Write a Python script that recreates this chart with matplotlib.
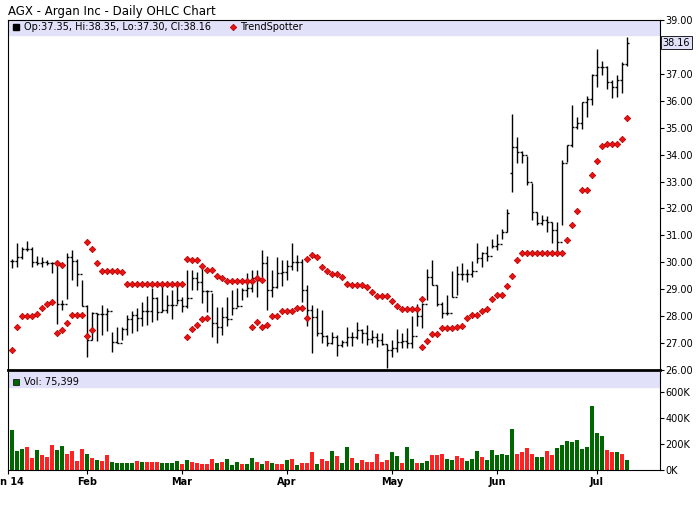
import numpy as np
import matplotlib
matplotlib.use('Agg')
import matplotlib.pyplot as plt

nan = np.nan

# daily high / low / close (124 sessions, Jan 10 - Jul 9 2014)
highs = [30.14, 30.70, 30.58, 30.79, 30.58, 30.23, 30.20, 30.08, 30.02, 29.96,
         28.60, 30.35, 30.45, 30.14, 29.34, 28.41, 28.16, 28.10, 28.41, 28.29,
         27.42, 27.60, 27.60, 28.04, 28.20, 28.29, 28.53, 28.74, 29.03, 28.72,
         29.21, 28.78, 28.97, 29.15, 28.72, 29.71, 29.71, 29.65, 29.90, 28.97,
         28.87, 28.35, 28.35, 28.72, 28.99, 29.03, 29.03, 29.59, 29.71, 29.71,
         30.45, 30.23, 29.71, 30.20, 30.08, 30.08, 30.70, 30.27, 30.14, 29.15,
         28.41, 28.29, 28.22, 27.29, 27.42, 27.29, 27.13, 27.60, 27.42, 27.79,
         27.54, 27.67, 27.48, 27.38, 27.38, 26.96, 27.13, 27.54, 27.38, 27.55,
         28.00, 28.47, 28.50, 29.77, 30.08, 29.16, 28.54, 28.78, 29.69, 29.86,
         29.99, 29.77, 30.06, 30.73, 30.39, 30.60, 30.85, 31.04, 31.22, 31.97,
         35.51, 34.67, 34.15, 33.95, 32.93, 31.88, 31.76, 31.72, 31.51, 31.51,
         33.80, 34.36, 35.84, 35.41, 35.97, 36.18, 36.99, 37.91, 37.49, 37.29,
         36.77, 36.96, 37.45, 38.35]
lows = [29.80, 29.83, 30.11, 30.43, 29.83, 29.90, 29.83, 29.90, 29.61, 27.70,
        28.22, 28.62, 29.34, 29.12, 28.37, 26.49, 27.11, 27.08, 27.29, 27.46,
        26.68, 26.99, 27.11, 27.29, 27.38, 27.46, 27.63, 27.67, 27.79, 27.85,
        28.16, 28.10, 27.91, 28.47, 28.16, 28.32, 28.97, 28.97, 28.50, 28.16,
        27.23, 26.99, 27.29, 27.63, 28.04, 28.35, 28.60, 28.72, 28.91, 28.72,
        29.46, 28.22, 28.72, 29.03, 29.12, 29.34, 29.71, 29.69, 28.53, 27.63,
        26.64, 27.26, 26.99, 26.89, 26.96, 26.51, 26.86, 26.89, 26.91, 27.17,
        26.99, 26.92, 26.99, 26.86, 26.92, 26.06, 26.49, 26.68, 26.80, 26.80,
        26.80, 27.63, 27.55, 28.60, 29.16, 28.38, 27.95, 28.04, 28.72, 28.78,
        29.34, 29.28, 29.46, 29.99, 29.81, 30.06, 30.52, 30.46, 30.85, 31.11,
        32.62, 33.68, 33.68, 32.87, 31.57, 31.38, 31.38, 31.14, 30.73, 30.27,
        31.38, 33.74, 34.29, 34.94, 34.94, 35.41, 35.84, 36.52, 36.96, 36.42,
        36.09, 36.15, 36.28, 37.30]
closes = [30.04, 30.18, 30.51, 30.51, 30.02, 29.96, 30.02, 29.98, 29.96, 28.45,
          28.47, 30.20, 30.06, 29.56, 28.37, 27.11, 28.10, 28.07, 28.07, 28.20,
          27.05, 27.01, 27.54, 27.91, 28.04, 27.95, 28.20, 28.20, 28.66, 28.16,
          28.22, 28.41, 28.41, 28.60, 28.37, 28.69, 29.40, 29.28, 28.94, 28.94,
          27.73, 27.60, 27.98, 27.91, 28.29, 28.37, 28.97, 29.03, 29.40, 29.34,
          29.96, 28.97, 29.09, 29.59, 29.65, 29.86, 30.02, 30.02, 28.97, 28.22,
          27.98, 27.38, 27.26, 26.99, 27.23, 26.92, 27.05, 27.21, 27.21, 27.48,
          27.36, 27.17, 27.23, 27.11, 26.96, 26.76, 26.80, 27.05, 27.09, 26.99,
          27.26, 28.00, 28.47, 29.46, 29.16, 28.45, 28.13, 28.13, 28.72, 29.56,
          29.56, 29.56, 29.69, 30.15, 30.36, 30.23, 30.60, 30.68, 31.14, 31.84,
          34.27, 34.11, 33.98, 32.99, 31.88, 31.47, 31.57, 31.51, 31.20, 30.77,
          33.68, 34.36, 35.04, 35.16, 35.97, 36.05, 36.96, 37.27, 37.24, 36.71,
          36.52, 36.77, 37.37, 38.16]
opens = [closes[0]] + closes[:-1]
opens[100] = 33.30
opens[-1] = 37.35

# TrendSpotter stops, above and below price
trend_lo = [26.74, 27.58, 28.00, 28.00, 28.00, 28.07, 28.29, 28.45, 28.52, 27.39,
            27.48, 27.76, 28.03, 28.03, 28.03, 27.26, 27.48, nan, nan, nan,
            nan, nan, nan, nan, nan, nan, nan, nan, nan, nan,
            nan, nan, nan, nan, nan, 27.21, 27.54, 27.69, 27.91, 27.95,
            nan, nan, nan, nan, nan, nan, nan, nan, 27.58, 27.80,
            27.58, 27.69, 27.99, 27.99, 28.21, 28.21, 28.21, 28.29, 28.29, 27.95,
            nan, nan, nan, nan, nan, nan, nan, nan, nan, nan,
            nan, nan, nan, nan, nan, nan, nan, nan, nan, nan,
            nan, nan, 26.84, 27.09, 27.34, 27.34, 27.55, 27.55, 27.55, 27.61,
            27.63, 27.92, 28.04, 28.04, 28.19, 28.25, 28.62, 28.78, 28.78, 29.12,
            29.51, 30.08, 30.33, 30.33, 30.33, 30.33, 30.33, 30.33, 30.33, 30.33,
            30.33, 30.83, 31.38, 31.89, 32.67, 32.67, 33.23, 33.75, 34.32, 34.39,
            34.39, 34.39, 34.58, 35.35]
trend_hi = [nan, nan, nan, nan, nan, nan, nan, nan, nan, 29.98,
            29.90, nan, nan, nan, nan, 30.77, 30.51, 29.96, 29.67, 29.67,
            29.67, 29.67, 29.64, 29.21, 29.21, 29.21, 29.21, 29.21, 29.21, 29.21,
            29.21, 29.21, 29.21, 29.21, 29.21, 30.14, 30.08, 30.08, 29.86, 29.71,
            29.71, 29.50, 29.40, 29.30, 29.30, 29.30, 29.30, 29.30, 29.30, 29.40,
            29.36, nan, nan, nan, nan, nan, nan, nan, nan, 30.14,
            30.27, 30.18, 29.81, 29.67, 29.56, 29.56, 29.46, 29.19, 29.15, 29.15,
            29.15, 29.07, 28.88, 28.74, 28.74, 28.74, 28.56, 28.37, 28.25, 28.25,
            28.25, 28.25, 28.62] + [nan] * 41

# volume in thousands, and whether the bar is green (up) or red (down)
volume = [307, 150, 165, 180, 90, 157, 115, 97, 195, 157, 187, 127, 150, 67, 165,
          120, 90, 75, 67, 112, 60, 52, 52, 52, 52, 67, 60, 60, 60, 60,
          52, 52, 52, 67, 45, 75, 60, 52, 45, 45, 82, 52, 60, 82, 37,
          60, 45, 45, 90, 60, 45, 67, 52, 45, 45, 75, 82, 37, 52, 52,
          142, 45, 82, 67, 150, 105, 52, 180, 90, 52, 75, 60, 60, 120, 60,
          75, 142, 105, 52, 180, 82, 52, 52, 67, 112, 112, 127, 82, 75, 105,
          90, 67, 82, 150, 97, 75, 157, 112, 120, 112, 315, 120, 142, 172, 127,
          97, 97, 150, 112, 172, 195, 225, 217, 232, 165, 180, 495, 285, 262, 157,
          135, 135, 120, 75.399]
up = "GGGRRGRRRGGRRRRGRGRRGGGGGRGRRRGGGGRGRRRRRGRGGGRGGRGRGRRGRGRRRGRRGRGGRGRRRRRRGGRGGRGGRRRGGRRGGGRGGGGGGRRRRGGRRGGGGGGGGGGRRGRGG"

months = ['Jan 14', 'Feb', 'Mar', 'Apr', 'May', 'Jun', 'Jul']
month_idx = [-0.8, 15, 34, 55, 76, 97, 117]
price_ticks = list(range(26, 40))

x = np.arange(len(closes))
band = '#e1e1f9'

fig = plt.figure(figsize=(7, 5.12), dpi=100)
ax = fig.add_axes([0.0114, 0.2773, 0.9314, 0.6837])
axv = fig.add_axes([0.0114, 0.082, 0.9314, 0.1914], sharex=ax)

fig.text(0.011, 0.978, 'AGX - Argan Inc - Daily OHLC Chart', fontsize=8.5, va='center')

# price panel
ax.vlines(x, lows, highs, color='black', lw=1)
ax.hlines(opens, x - 0.45, x, color='black', lw=1)
ax.hlines(closes, x, x + 0.45, color='black', lw=1)
ax.plot(x, trend_hi, 'D', ms=3.3, color='#ee1111', mec='#aa0000', mew=0.5)
ax.plot(x, trend_lo, 'D', ms=3.3, color='#ee1111', mec='#aa0000', mew=0.5)
ax.set_xlim(-0.8, 129.6)
ax.set_ylim(26, 39)
ax.set_yticks(price_ticks)
ax.set_yticklabels(['' if v == 38 else '%.2f' % v for v in price_ticks])
ax.yaxis.tick_right()
ax.tick_params(axis='y', labelsize=7, length=3, pad=1)
ax.tick_params(axis='x', bottom=False, labelbottom=False)
ax.axhspan(38.44, 39, color=band, zorder=0)
ax.spines['bottom'].set_linewidth(2)
ax.plot(0.012, 0.979, 's', ms=5, color='black', transform=ax.transAxes)
ax.text(0.024, 0.979, 'Op:37.35, Hi:38.35, Lo:37.30, Cl:38.16', fontsize=7,
        va='center', transform=ax.transAxes)
ax.plot(0.345, 0.979, 'D', ms=3.3, color='#ee1111', mec='#aa0000', mew=0.5,
        transform=ax.transAxes)
ax.text(0.356, 0.979, 'TrendSpotter', fontsize=7, va='center', transform=ax.transAxes)
ax.text(1.004, 38.16, '38.16', fontsize=7, va='center', transform=ax.get_yaxis_transform(),
        bbox=dict(boxstyle='square,pad=0.15', fc='#e1e1f9', ec='black', lw=0.6))

# volume panel
colors = ['#006600' if c == 'G' else '#ff2222' for c in up]
axv.bar(x, volume, width=0.7, color=colors)
axv.set_ylim(0, 754)
axv.axhspan(640, 754, color=band, zorder=0)
axv.set_yticks([0, 200, 400, 600])
axv.set_yticklabels(['0K', '200K', '400K', '600K'])
axv.yaxis.tick_right()
axv.tick_params(axis='y', labelsize=7, length=3, pad=1)
axv.set_xticks(month_idx)
axv.set_xticklabels(months, fontsize=7, fontweight='bold')
axv.tick_params(axis='x', length=3, pad=2)
axv.spines['top'].set_visible(False)
axv.plot(0.012, 0.9, 's', ms=5, color='#006600', mec='black', mew=0.5, transform=axv.transAxes)
axv.text(0.024, 0.9, 'Vol: 75,399', fontsize=7, va='center', transform=axv.transAxes)

fig.savefig('out.png', dpi=100)
